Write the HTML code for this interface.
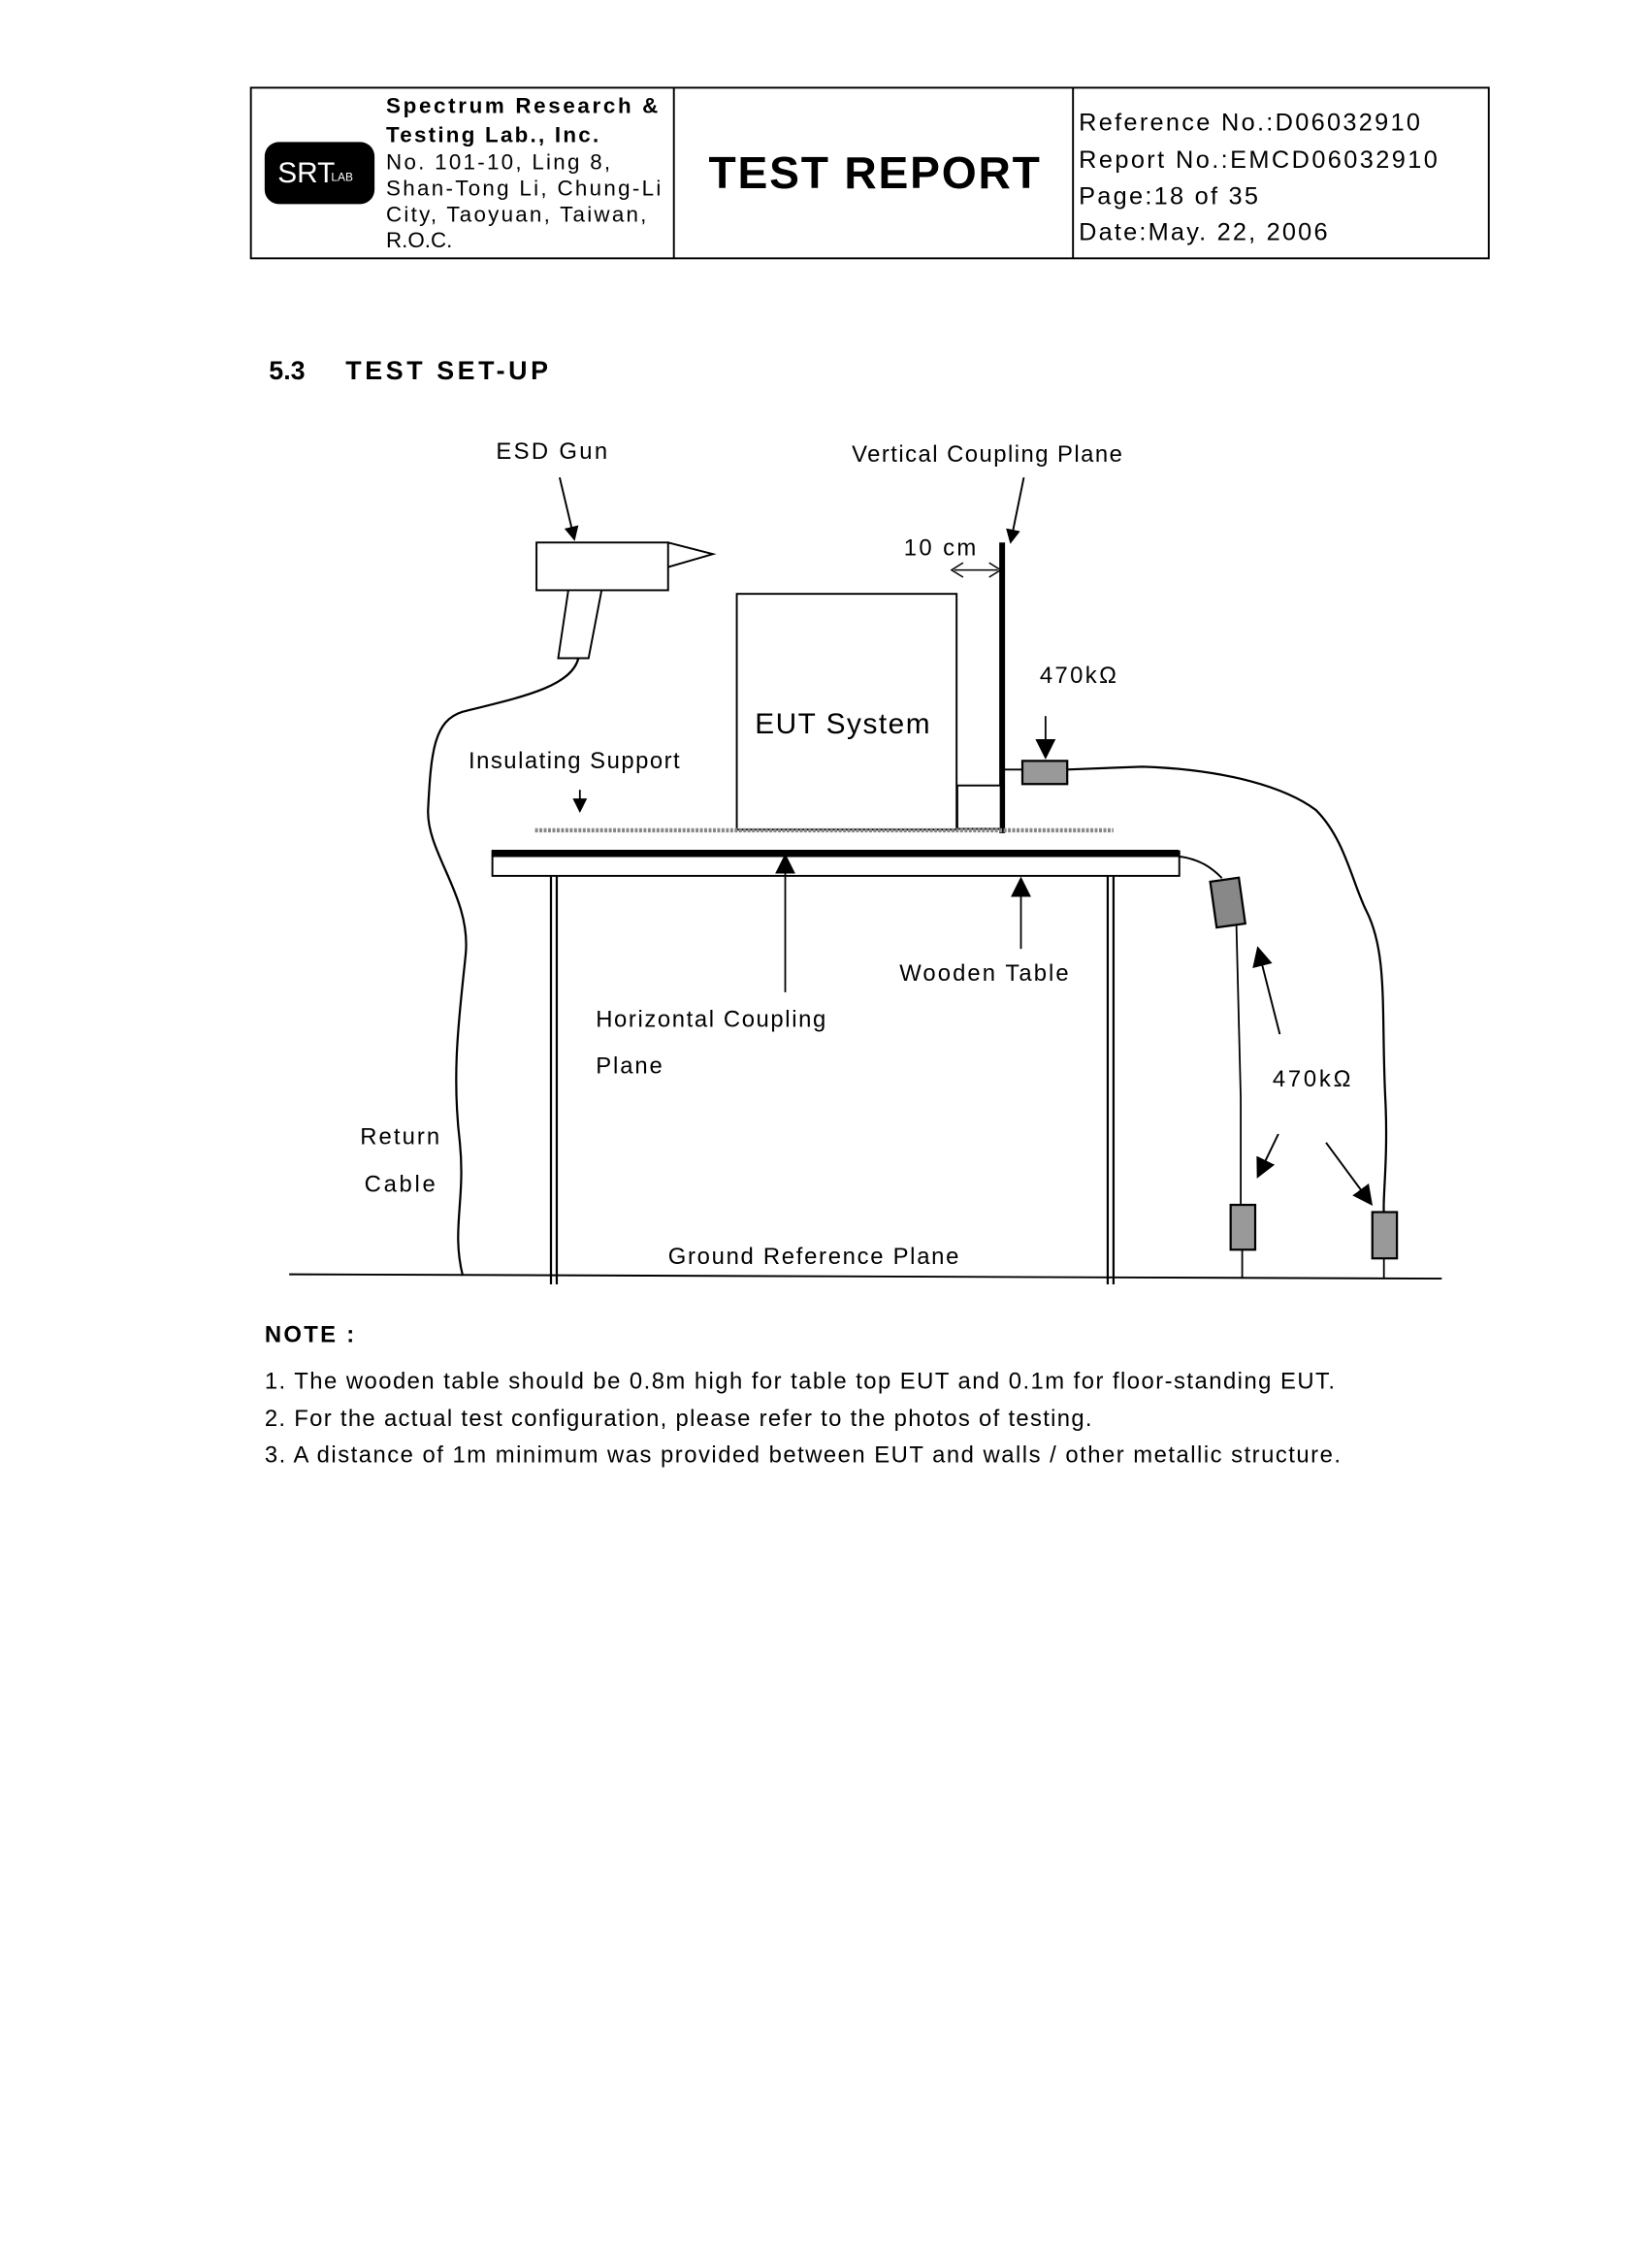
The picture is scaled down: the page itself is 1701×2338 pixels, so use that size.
<!DOCTYPE html>
<html><head><style>
html,body{margin:0;padding:0;background:#fff;}
svg{display:block;}
text{font-family:"Liberation Sans",sans-serif;fill:#000;}
</style></head><body>
<svg width="1701" height="2338" viewBox="0 0 1141 1568" xmlns="http://www.w3.org/2000/svg">
<defs>
<marker id="ah" markerWidth="10" markerHeight="10" refX="8" refY="5" orient="auto" markerUnits="userSpaceOnUse"><path d="M0,0 L10,5 L0,10 z" fill="#000"/></marker>
<marker id="ah2" markerWidth="14" markerHeight="14" refX="12" refY="7" orient="auto" markerUnits="userSpaceOnUse"><path d="M0,0 L14,7 L0,14 z" fill="#000"/></marker>
</defs>
<rect x="0" y="0" width="1141" height="1568" fill="#fff"/>
<!-- header -->
<rect x="173.5" y="60.5" width="856" height="118" fill="none" stroke="#000" stroke-width="1.3"/>
<line x1="466" y1="60" x2="466" y2="178" stroke="#000" stroke-width="1.3"/>
<line x1="742" y1="60" x2="742" y2="178" stroke="#000" stroke-width="1.3"/>
<rect x="183" y="98" width="76" height="43" rx="10" fill="#000"/>
<text x="192" y="126" font-family="Liberation Serif" font-size="20" style="fill:#fff">SRT</text>
<text x="229" y="125" font-size="8" style="fill:#fff">LAB</text>
<text x="267" y="78" font-size="15" font-weight="bold" textLength="188">Spectrum Research &amp;</text>
<text x="267" y="98" font-size="15" font-weight="bold" textLength="147">Testing Lab., Inc.</text>
<text x="267" y="117" font-size="15" textLength="155">No. 101-10, Ling 8,</text>
<text x="267" y="135" font-size="15" textLength="190">Shan-Tong Li, Chung-Li</text>
<text x="267" y="153" font-size="15" textLength="180">City, Taoyuan, Taiwan,</text>
<text x="267" y="171" font-size="15">R.O.C.</text>
<text x="490" y="130" font-size="31" font-weight="bold" textLength="229">TEST REPORT</text>
<text x="746" y="90" font-size="17" textLength="236">Reference No.:D06032910</text>
<text x="746" y="116" font-size="17" textLength="248">Report No.:EMCD06032910</text>
<text x="746" y="141" font-size="17" textLength="124">Page:18 of 35</text>
<text x="746" y="166" font-size="17" textLength="172">Date:May. 22, 2006</text>
<text x="186" y="262" font-size="18" font-weight="bold">5.3</text>
<text x="239" y="262" font-size="18" font-weight="bold" textLength="140">TEST SET-UP</text>
<!-- ESD gun -->
<rect x="371" y="375" width="91" height="33" fill="#fff" stroke="#000" stroke-width="1.3"/>
<path d="M462,375 L493,383 L462,392" fill="none" stroke="#000" stroke-width="1.3"/>
<path d="M393,408 L416,408 L407,455 L386,455 Z" fill="#fff" stroke="#000" stroke-width="1.3"/>
<path d="M400,455 C395,475 360,482 320,492 C300,498 298,520 296,560 C295,590 326,620 322,660 C318,700 312,740 318,790 C322,830 312,850 320,882" fill="none" stroke="#000" stroke-width="1.5"/>
<line x1="387" y1="330" x2="397" y2="372" stroke="#000" stroke-width="1.3" marker-end="url(#ah)"/>
<line x1="708" y1="330" x2="699" y2="374" stroke="#000" stroke-width="1.3" marker-end="url(#ah)"/>
<!-- vertical plane -->
<line x1="693" y1="375" x2="693" y2="576" stroke="#000" stroke-width="4"/>
<line x1="660" y1="394" x2="690" y2="394" stroke="#000" stroke-width="1"/>
<path d="M666,389 L658,394 L666,399 M684,389 L692,394 L684,399" fill="none" stroke="#000" stroke-width="1"/>
<!-- EUT -->
<rect x="509.5" y="410.5" width="152" height="163" fill="#fff" stroke="#000" stroke-width="1.3"/>
<rect x="662" y="543" width="30" height="30" fill="#fff" stroke="#000" stroke-width="1.3"/>
<text x="522" y="507" font-size="20" textLength="121">EUT System</text>
<line x1="370" y1="574" x2="770" y2="574" stroke="#888" stroke-width="3" stroke-dasharray="2,1"/>
<line x1="401" y1="546" x2="401" y2="560" stroke="#000" stroke-width="1.2" marker-end="url(#ah)"/>
<!-- table -->
<rect x="340.5" y="588.5" width="475" height="17" fill="#fff" stroke="#000" stroke-width="1.3"/>
<line x1="340" y1="590" x2="815" y2="590" stroke="#000" stroke-width="5"/>
<line x1="381" y1="606" x2="381" y2="888" stroke="#000" stroke-width="1.5"/>
<line x1="385" y1="606" x2="385" y2="888" stroke="#000" stroke-width="1.5"/>
<line x1="766" y1="606" x2="766" y2="888" stroke="#000" stroke-width="1.5"/>
<line x1="770" y1="606" x2="770" y2="888" stroke="#000" stroke-width="1.5"/>
<line x1="200" y1="881" x2="997" y2="884" stroke="#000" stroke-width="1.3"/>
<line x1="543" y1="686" x2="543" y2="592" stroke="#000" stroke-width="1.2" marker-end="url(#ah2)"/>
<line x1="706" y1="656" x2="706" y2="608" stroke="#000" stroke-width="1.2" marker-end="url(#ah2)"/>
<!-- resistor top -->
<line x1="723" y1="495" x2="723" y2="523" stroke="#000" stroke-width="1.2" marker-end="url(#ah2)"/>
<line x1="693" y1="532" x2="707" y2="532" stroke="#000" stroke-width="1.3"/>
<rect x="707" y="526" width="31" height="16" fill="#999" stroke="#000" stroke-width="1.5"/>
<path d="M738,532 L790,530 C850,532 890,545 910,560 C930,580 935,610 945,630 C960,660 955,700 958,760 C960,800 956,830 957,838" fill="none" stroke="#000" stroke-width="1.5"/>
<rect x="949" y="838" width="17" height="32" fill="#999" stroke="#000" stroke-width="1.5"/>
<line x1="957" y1="870" x2="957" y2="884" stroke="#000" stroke-width="1.2"/>
<!-- resistor chain from table -->
<path d="M815,592 C830,594 838,600 845,607" fill="none" stroke="#000" stroke-width="1.3"/>
<rect x="839" y="608" width="20" height="32" fill="#888" stroke="#000" stroke-width="1.5" transform="rotate(-8 849 624)"/>
<path d="M855,640 L858,760 L858,833" fill="none" stroke="#000" stroke-width="1.2"/>
<rect x="851" y="833" width="17" height="31" fill="#999" stroke="#000" stroke-width="1.5"/>
<line x1="859" y1="864" x2="859" y2="884" stroke="#000" stroke-width="1.2"/>
<line x1="885" y1="715" x2="870" y2="656" stroke="#000" stroke-width="1.3" marker-end="url(#ah2)"/>
<line x1="884" y1="784" x2="870" y2="813" stroke="#000" stroke-width="1.3" marker-end="url(#ah2)"/>
<line x1="917" y1="790" x2="948" y2="832" stroke="#000" stroke-width="1.3" marker-end="url(#ah2)"/>
<!-- labels -->
<g font-size="16">
<text x="343" y="317" textLength="77">ESD Gun</text>
<text x="589" y="319" textLength="187">Vertical Coupling Plane</text>
<text x="625" y="384" textLength="50">10 cm</text>
<text x="719" y="472" textLength="53">470kΩ</text>
<text x="324" y="531" textLength="146">Insulating Support</text>
<text x="622" y="678" textLength="117">Wooden Table</text>
<text x="412" y="710" textLength="159">Horizontal Coupling</text>
<text x="412" y="742" textLength="46">Plane</text>
<text x="880" y="751" textLength="54">470kΩ</text>
<text x="249" y="791" textLength="55">Return</text>
<text x="252" y="824" textLength="49">Cable</text>
<text x="462" y="874" textLength="201">Ground Reference Plane</text>
</g>
<!-- notes -->
<text x="183" y="928" font-size="16" font-weight="bold" textLength="62">NOTE :</text>
<g font-size="16">
<text x="183" y="960" textLength="740">1. The wooden table should be 0.8m high for table top EUT and 0.1m for floor-standing EUT.</text>
<text x="183" y="986" textLength="572">2. For the actual test configuration, please refer to the photos of testing.</text>
<text x="183" y="1011" textLength="744">3. A distance of 1m minimum was provided between EUT and walls / other metallic structure.</text>
</g>
</svg>
</body></html>
